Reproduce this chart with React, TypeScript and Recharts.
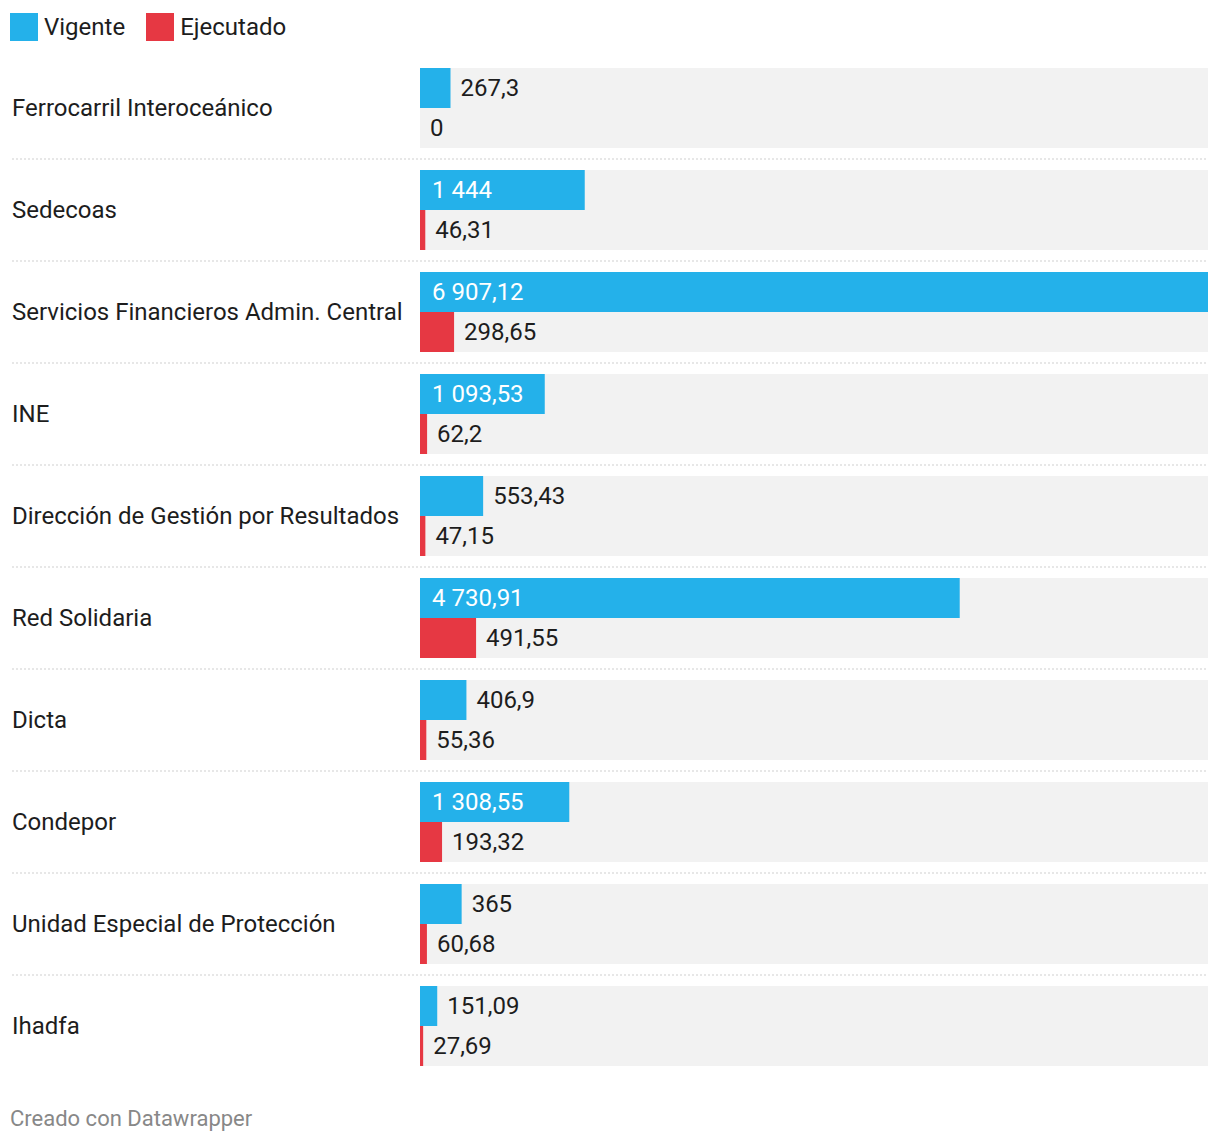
import React from 'react';
import { BarChart, Bar, XAxis, YAxis, LabelList } from 'recharts';

const categories = [
  'Ferrocarril Interoceánico',
  'Sedecoas',
  'Servicios Financieros Admin. Central',
  'INE',
  'Dirección de Gestión por Resultados',
  'Red Solidaria',
  'Dicta',
  'Condepor',
  'Unidad Especial de Protección',
  'Ihadfa',
];
const vigente = [267.3, 1444, 6907.12, 1093.53, 553.43, 4730.91, 406.9, 1308.55, 365, 151.09];
const ejecutado = [0, 46.31, 298.65, 62.2, 47.15, 491.55, 55.36, 193.32, 60.68, 27.69];
const seriesNames = ['Vigente', 'Ejecutado'];
const footerText = 'Creado con Datawrapper';

const BLUE = '#24b1ea';
const RED = '#e63843';
const FONT = 'Roboto, "Noto Sans", sans-serif';

const data = categories.map((name, i) => ({ name, vigente: vigente[i], ejecutado: ejecutado[i] }));

const fmt = (v: number) => {
  const s = Number(v.toFixed(2)).toString();
  const [int, dec] = s.split('.');
  const intS = int.replace(/\B(?=(\d{3})+(?!\d))/g, '\u00a0');
  return dec ? `${intS},${dec}` : intS;
};

const CHART_W = 1220;
const CHART_H = 1077;
const TOP = 57;
const PITCH = 102;
const FS = 24;

const CategoryTick = (props: any) => {
  const { y, payload, index } = props;
  return (
    <g>
      <text x={12} y={y} dy={7.5} fontSize={FS} fill="#1d1d1d" fontFamily={FONT} textAnchor="start">
        {payload.value}
      </text>
      {index < categories.length - 1 && (
        <line x1={12} x2={1208} y1={y + PITCH / 2} y2={y + PITCH / 2} stroke="#cfcfcf" strokeWidth={1} strokeDasharray="2 2" />
      )}
    </g>
  );
};

const ValueLabel = (props: any) => {
  const { x, y, width, height, value } = props;
  const text = fmt(value);
  const approxW = text.length * 11.5 + 14;
  const w = Math.max(0, width || 0);
  const inside = w > approxW;
  return (
    <text
      x={inside ? x + 12 : x + w + 10}
      y={y + height / 2}
      dy={7.5}
      fontSize={FS}
      fontFamily={FONT}
      fill={inside ? '#ffffff' : '#1d1d1d'}
      textAnchor="start"
    >
      {text}
    </text>
  );
};

const tinyIfZero = (value: any) => (value === 0 ? 0.001 : 0);

export default function App() {
  return (
    <div style={{ position: 'absolute', left: 0, top: 0, width: 1220, height: 1144, background: '#fff', fontFamily: FONT }}>
      <div style={{ position: 'absolute', left: 10, top: 13, height: 28, display: 'flex', alignItems: 'center', fontSize: FS, color: '#1d1d1d' }}>
        <span style={{ width: 28, height: 28, background: BLUE, display: 'inline-block' }} />
        <span style={{ marginLeft: 6, marginRight: 21 }}>{seriesNames[0]}</span>
        <span style={{ width: 28, height: 28, background: RED, display: 'inline-block' }} />
        <span style={{ marginLeft: 6 }}>{seriesNames[1]}</span>
      </div>
      <div style={{ position: 'absolute', left: 0, top: 0 }}>
        <BarChart
          width={CHART_W}
          height={CHART_H}
          data={data}
          layout="vertical"
          margin={{ top: TOP, right: 12, bottom: 0, left: 12 }}
          barGap={0}
        >
          <XAxis type="number" domain={[0, 6907.12]} hide />
          <YAxis
            type="category"
            dataKey="name"
            width={408}
            axisLine={false}
            tickLine={false}
            interval={0}
            tick={<CategoryTick />}
          />
          <Bar dataKey="vigente" fill={BLUE} barSize={40} background={{ fill: '#f2f2f2' }} minPointSize={tinyIfZero} isAnimationActive={false}>
            <LabelList dataKey="vigente" content={<ValueLabel />} />
          </Bar>
          <Bar dataKey="ejecutado" fill={RED} barSize={40} background={{ fill: '#f2f2f2' }} minPointSize={tinyIfZero} isAnimationActive={false}>
            <LabelList dataKey="ejecutado" content={<ValueLabel />} />
          </Bar>
        </BarChart>
      </div>
      <div style={{ position: 'absolute', left: 10, top: 1106, fontSize: 22, color: '#888888' }}>{footerText}</div>
    </div>
  );
}
